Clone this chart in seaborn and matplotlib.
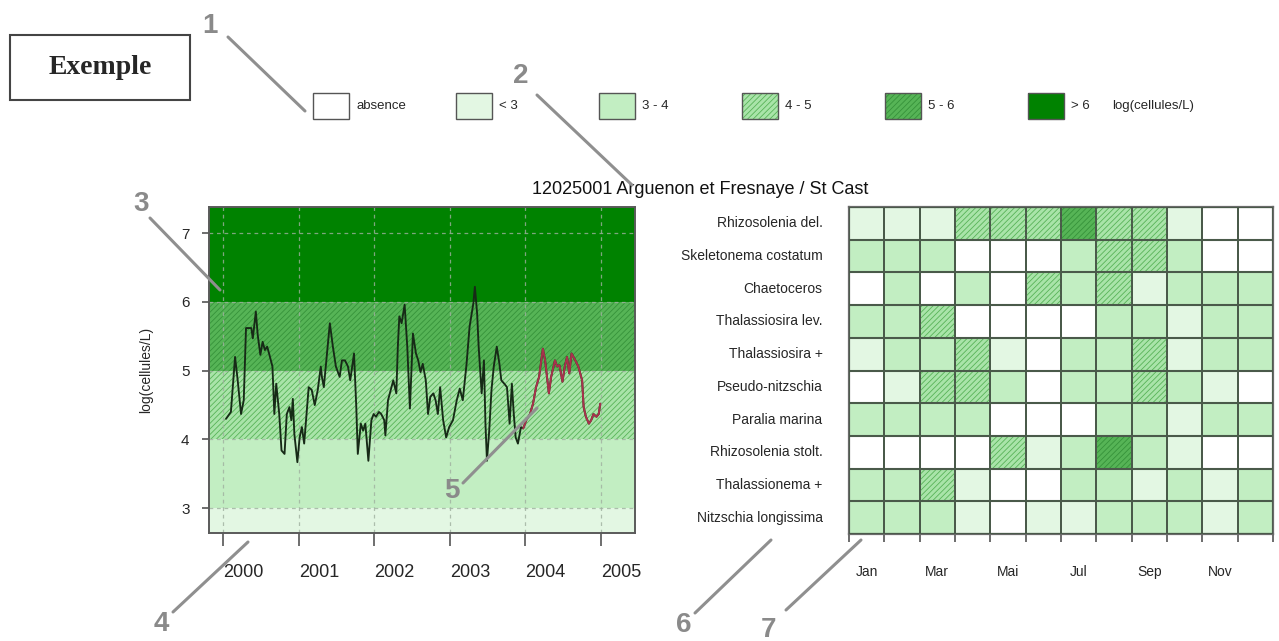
import numpy as np
import pandas as pd
import matplotlib
matplotlib.use("Agg")
import matplotlib.pyplot as plt
from matplotlib.colors import ListedColormap
from matplotlib.patches import Rectangle
from matplotlib.lines import Line2D
import seaborn as sns

# ---------------------------------------------------------------- data
years = [
    2000.035, 2000.10, 2000.155, 2000.19, 2000.234, 2000.27, 2000.30, 2000.37,
    2000.39, 2000.43, 2000.455, 2000.49, 2000.52, 2000.55, 2000.58, 2000.61,
    2000.65, 2000.675, 2000.70, 2000.74, 2000.77, 2000.81, 2000.84, 2000.875,
    2000.90, 2000.92, 2000.94, 2000.98, 2001.01, 2001.04, 2001.07, 2001.13,
    2001.17, 2001.21, 2001.25, 2001.29, 2001.305, 2001.33, 2001.41, 2001.45,
    2001.49, 2001.54, 2001.57, 2001.61, 2001.65, 2001.68, 2001.73, 2001.76,
    2001.78, 2001.82, 2001.85, 2001.88, 2001.92, 2001.96, 2001.99, 2002.02,
    2002.06, 2002.09, 2002.13, 2002.145, 2002.18, 2002.25, 2002.29, 2002.31,
    2002.33, 2002.36, 2002.40, 2002.435, 2002.47, 2002.51, 2002.55, 2002.58,
    2002.61, 2002.64, 2002.68, 2002.71, 2002.74, 2002.78, 2002.81, 2002.84,
    2002.87, 2002.91, 2002.95, 2002.99, 2003.04, 2003.09, 2003.13, 2003.17,
    2003.22, 2003.26, 2003.31, 2003.33, 2003.36, 2003.38, 2003.42, 2003.45,
    2003.47, 2003.49, 2003.52, 2003.55, 2003.58, 2003.62, 2003.655, 2003.68,
    2003.72, 2003.755, 2003.79, 2003.82, 2003.845, 2003.87, 2003.90, 2003.94,
    2003.97, 2004.01, 2004.06, 2004.10, 2004.14, 2004.18, 2004.23, 2004.26,
    2004.29, 2004.31, 2004.34, 2004.39, 2004.42, 2004.45, 2004.49, 2004.52,
    2004.55, 2004.58, 2004.61, 2004.66, 2004.70, 2004.75, 2004.77, 2004.80,
    2004.84, 2004.87, 2004.90, 2004.94, 2004.97, 2004.99,
]
log_cells = [
    4.30, 4.40, 5.20, 4.86, 4.37, 4.57, 5.62, 5.62,
    5.47, 5.86, 5.52, 5.23, 5.42, 5.30, 5.35, 5.23,
    5.06, 4.37, 4.81, 4.37, 3.84, 3.79, 4.37, 4.47,
    4.28, 4.59, 4.08, 3.67, 4.03, 4.18, 3.94, 4.76,
    4.72, 4.50, 4.72, 5.06, 4.91, 4.76, 5.69, 5.35,
    5.06, 4.91, 5.15, 5.15, 5.06, 4.86, 5.25, 4.47,
    3.79, 4.23, 4.13, 4.23, 3.69, 4.28, 4.37, 4.33,
    4.40, 4.37, 4.28, 4.06, 4.57, 4.86, 4.67, 5.35,
    5.79, 5.69, 5.96, 5.35, 4.45, 5.54, 5.25, 5.15,
    4.98, 5.10, 4.86, 4.37, 4.62, 4.67, 4.57, 4.37,
    4.76, 4.28, 4.03, 4.18, 4.28, 4.57, 4.74, 4.57,
    5.10, 5.64, 5.98, 6.22, 5.83, 5.35, 4.67, 5.15,
    4.23, 3.69, 4.13, 4.72, 5.06, 5.35, 5.10, 4.86,
    4.81, 4.76, 4.23, 4.81, 4.37, 4.03, 3.94, 4.18,
    4.16, 4.28, 4.37, 4.52, 4.76, 4.91, 5.32, 5.15,
    4.86, 4.67, 4.91, 5.15, 5.06, 5.08, 4.84, 5.06,
    5.20, 4.96, 5.25, 5.15, 5.06, 4.86, 4.47, 4.33,
    4.23, 4.28, 4.37, 4.33, 4.37, 4.52,
]
current_year = 2004
year_ticks = [2000, 2001, 2002, 2003, 2004, 2005]
level_ticks = [3, 4, 5, 6, 7]

taxa = [
    "Rhizosolenia del.", "Skeletonema costatum", "Chaetoceros",
    "Thalassiosira lev.", "Thalassiosira +", "Pseudo-nitzschia",
    "Paralia marina", "Rhizosolenia stolt.", "Thalassionema +",
    "Nitzschia longissima",
]
months = ["Jan", "Fév", "Mar", "Avr", "Mai", "Jun",
          "Jul", "Aoû", "Sep", "Oct", "Nov", "Déc"]
month_labels = ["Jan", "", "Mar", "", "Mai", "", "Jul", "", "Sep", "", "Nov", ""]

# abundance class per taxon and month (0 = absence ... 5 = > 6)
class_grid = [
    [1, 1, 1, 3, 3, 3, 4, 3, 3, 1, 0, 0],
    [2, 2, 2, 0, 0, 0, 2, 3, 3, 2, 0, 0],
    [0, 2, 0, 2, 0, 3, 2, 3, 1, 2, 2, 2],
    [2, 2, 3, 0, 0, 0, 0, 2, 2, 1, 2, 2],
    [1, 2, 2, 3, 1, 0, 2, 2, 3, 1, 2, 2],
    [0, 1, 3, 3, 2, 0, 2, 2, 3, 2, 1, 0],
    [2, 2, 2, 2, 0, 0, 0, 2, 2, 1, 2, 2],
    [0, 0, 0, 0, 3, 1, 2, 4, 2, 1, 0, 0],
    [2, 2, 3, 1, 0, 0, 2, 2, 1, 2, 1, 2],
    [2, 2, 2, 1, 0, 1, 1, 2, 2, 2, 1, 2],
]

class_labels = ["absence", "< 3", "3 - 4", "4 - 5", "5 - 6", "> 6"]
class_bounds = [3, 4, 5, 6]
class_colors = ["#ffffff", "#e3f7e3", "#c2eec2", "#a9e4a9", "#56b456", "#008200"]
hatch_colors = [None, None, None, "#58b358", "#36923a", None]
unit_label = "log(cellules/L)"
station_title = "12025001 Arguenon et Fresnaye / St Cast"

# ---------------------------------------------------------------- style
sns.set_style("white")
plt.rcParams["font.family"] = ["Liberation Sans", "DejaVu Sans"]
plt.rcParams["hatch.linewidth"] = 0.6
HATCH = "//////"
CELL_LINE = "#4a5a4a"

W, H = 1279, 641
fig = plt.figure(figsize=(W / 100, H / 100), dpi=100)
fig.patch.set_facecolor("white")


def fx(x):
    return x / W


def fy(y):
    return 1 - y / H


# ---------------------------------------------------------------- time series
ax1 = fig.add_axes([fx(209), fy(533), (635 - 209) / W, (533 - 207) / H])
ylo, yhi = 2.64, 7.38
edges = [ylo] + class_bounds + [yhi]
for k in range(5):
    lvl = k + 1
    ax1.axhspan(edges[k], edges[k + 1], facecolor=class_colors[lvl],
                edgecolor=hatch_colors[lvl] or class_colors[lvl],
                hatch=HATCH if hatch_colors[lvl] else None,
                linewidth=0, zorder=0)

ts = pd.DataFrame({"annee": years, "valeur": log_cells})
sns.lineplot(data=ts, x="annee", y="valeur", ax=ax1, color="#172a17",
             linewidth=1.35, estimator=None, sort=False, zorder=3)
start = int(np.searchsorted(ts["annee"].values, current_year)) - 1
sns.lineplot(data=ts.iloc[start:], x="annee", y="valeur", ax=ax1,
             color="#a8324c", linewidth=1.4, estimator=None, sort=False, zorder=4)

ax1.set_xlim(1999.81, 2005.45)
ax1.set_ylim(ylo, yhi)
ax1.set_xticks(year_ticks)
ax1.set_xticklabels([str(y) for y in year_ticks], ha="left")
ax1.set_yticks(level_ticks)
ax1.set_yticklabels([str(v) for v in level_ticks])
ax1.set_axisbelow("line")
ax1.grid(True, linestyle=(0, (3, 3)), color="#9fb09f", linewidth=0.9,
         alpha=0.8, zorder=1)
ax1.tick_params(axis="x", bottom=True, length=9, width=1.2, color="#555555",
                pad=13, labelsize=13)
ax1.tick_params(axis="y", left=True, length=5, width=1.2, color="#555555",
                pad=9, labelsize=11)
ax1.set_xlabel("")
ax1.set_ylabel(unit_label, fontsize=10, labelpad=20)
for sp in ax1.spines.values():
    sp.set_color("#5a5a5a")
    sp.set_linewidth(1.4)

# ---------------------------------------------------------------- monthly grid
ax2 = fig.add_axes([fx(849), fy(534), (1273 - 849) / W, (534 - 207) / H])
grid_df = pd.DataFrame(class_grid, index=taxa, columns=months)
sns.heatmap(grid_df, ax=ax2, cmap=ListedColormap(class_colors), vmin=-0.5,
            vmax=5.5, cbar=False, linewidths=1.2, linecolor=CELL_LINE,
            square=False)
for i, row in enumerate(class_grid):
    for j, lvl in enumerate(row):
        if hatch_colors[lvl]:
            ax2.add_patch(Rectangle((j, i), 1, 1, fill=False, hatch=HATCH,
                                    edgecolor=hatch_colors[lvl], linewidth=0,
                                    zorder=2))
# cell borders above hatching
for j in range(len(months) + 1):
    ax2.axvline(j, color=CELL_LINE, linewidth=1.2, zorder=3)
for i in range(len(taxa) + 1):
    ax2.axhline(i, color=CELL_LINE, linewidth=1.5, zorder=3)

ax2.set_xticks(np.arange(len(months) + 1))
ax2.set_xticklabels([""] * (len(months) + 1))
ax2.set_xticks(np.arange(len(months)) + 0.5, minor=True)
ax2.set_xticklabels(month_labels, minor=True)
ax2.tick_params(axis="x", which="major", bottom=True, length=6, width=1.1,
                color="#444444")
ax2.tick_params(axis="x", which="minor", bottom=True, length=0, pad=22,
                labelsize=10)
ax2.set_yticks(np.arange(len(taxa)) + 0.5)
ax2.set_yticklabels(taxa, rotation=0)
ax2.tick_params(axis="y", left=False, length=0, pad=19, labelsize=10)
ax2.set_xlabel("")
ax2.set_ylabel("")
for sp in ax2.spines.values():
    sp.set_visible(True)
    sp.set_color("#6a6a6a")
    sp.set_linewidth(1.6)

fig.text(fx(700), fy(189), station_title, ha="center", va="center",
         fontsize=13, color="#111111")

# ---------------------------------------------------------------- legend
for k, lab in enumerate(class_labels):
    x0 = 313 + k * 143
    box = dict(transform=fig.transFigure)
    fig.add_artist(Rectangle((fx(x0), fy(119)), 36 / W, 26 / H,
                             facecolor=class_colors[k], linewidth=0, **box))
    if hatch_colors[k]:
        fig.add_artist(Rectangle((fx(x0), fy(119)), 36 / W, 26 / H,
                                 fill=False, hatch=HATCH,
                                 edgecolor=hatch_colors[k], linewidth=0, **box))
    fig.add_artist(Rectangle((fx(x0), fy(119)), 36 / W, 26 / H, fill=False,
                             edgecolor="#555555", linewidth=1.0, **box))
    fig.text(fx(x0 + 43), fy(106), lab, ha="left", va="center", fontsize=9.5)
fig.text(fx(1112), fy(106), unit_label, ha="left", va="center", fontsize=9.5)

# ---------------------------------------------------------------- "Exemple" box
fig.add_artist(Rectangle((fx(10), fy(100)), 180 / W, 65 / H,
                         transform=fig.transFigure, facecolor="white",
                         edgecolor="#444444", linewidth=1.5))
fig.text(fx(100), fy(68), "Exemple", ha="center", va="center", fontsize=20,
         fontweight="bold", family=["Liberation Serif", "DejaVu Serif"])

# ---------------------------------------------------------------- numbered callouts
callouts = [
    ("1", (210, 26), (228, 37), (305, 111)),
    ("2", (521, 76), (537, 95), (632, 185)),
    ("3", (141, 204), (150, 218), (220, 290)),
    ("4", (161, 624), (173, 612), (248, 542)),
    ("5", (452, 491), (463, 483), (537, 408)),
    ("6", (684, 625), (695, 613), (771, 540)),
    ("7", (768, 630), (786, 610), (861, 540)),
]
for num, (tx, ty), (x0, y0), (x1, y1) in callouts:
    fig.add_artist(Line2D([fx(x0), fx(x1)], [fy(y0), fy(y1)],
                          transform=fig.transFigure, color="#8f8f8f",
                          linewidth=2.2, zorder=10))
    fig.text(fx(tx), fy(ty), num, ha="center", va="center", fontsize=20,
             fontweight="bold", color="#8a8a8a", zorder=11)

fig.savefig("out.png", dpi=100, facecolor="white")
